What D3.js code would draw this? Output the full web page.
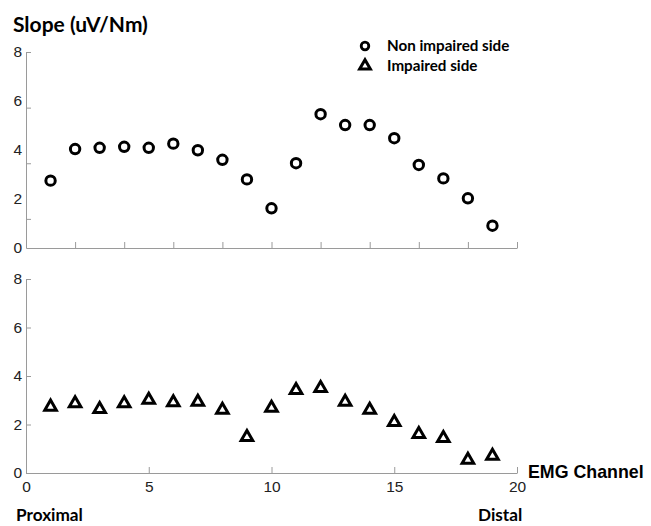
<!DOCTYPE html>
<html>
<head>
<meta charset="utf-8">
<script src="https://cdn.jsdelivr.net/npm/d3@7"></script>
<style>
  body { margin: 0; background: #fff; }
  svg { display: block; }
</style>
</head>
<body>
<svg id="chart" width="651" height="526"></svg>
<script>
// EMG channels 1..19
var channels = [1, 2, 3, 4, 5, 6, 7, 8, 9, 10, 11, 12, 13, 14, 15, 16, 17, 18, 19];
var nonImpaired = [2.75, 4.04, 4.09, 4.13, 4.09, 4.26, 3.99, 3.60, 2.80, 1.62, 3.46, 5.46, 5.02, 5.02, 4.48, 3.39, 2.84, 2.03, 0.91];
var impaired = [2.73, 2.87, 2.63, 2.87, 3.01, 2.91, 2.93, 2.60, 1.48, 2.68, 3.42, 3.50, 2.93, 2.60, 2.10, 1.60, 1.44, 0.54, 0.70];
var yTickLabels = [0, 2, 4, 6, 8];
var xTickLabels = [0, 5, 10, 15, 20];
var topXTicks = [2, 4, 6, 8, 10, 12, 14, 16, 18, 20];

function draw() {
  var svg = d3.select("#chart");
  var axisColor = "#9a9a9a";

  var x = d3.scaleLinear().domain([0, 20]).range([26, 517]);
  var yTop = d3.scaleLinear().domain([0, 8]).range([248, 52]);
  // the top panel's tick marks don't line up with its labels in the original
  var yTopTicks = d3.scaleLinear().domain([0, 8]).range([274.5, 52]);
  var yBot = d3.scaleLinear().domain([0, 8]).range([473, 279]);

  function styleAxis(g) {
    g.select(".domain").attr("stroke", axisColor);
    g.selectAll(".tick line").attr("stroke", axisColor);
    g.selectAll(".tick text")
      .attr("fill", "#222")
      .attr("font-family", "'Liberation Sans', Arial, sans-serif")
      .attr("font-size", 15.5);
  }

  // ---- top panel ----
  svg.append("g")
    .attr("transform", "translate(26,0)")
    .call(d3.axisLeft(yTop).tickValues(yTickLabels).tickSize(0).tickPadding(4).tickSizeOuter(0))
    .call(styleAxis);
  svg.append("g")
    .attr("transform", "translate(26,0)")
    .call(d3.axisLeft(yTopTicks).tickValues([2, 4, 6, 8]).tickSize(-5).tickFormat("").tickSizeOuter(0))
    .call(function(g) { g.select(".domain").remove(); })
    .call(styleAxis);
  svg.append("g")
    .attr("transform", "translate(0,248)")
    .call(d3.axisBottom(x).tickValues(topXTicks).tickSize(-6).tickFormat("").tickSizeOuter(0))
    .call(styleAxis);

  // ---- bottom panel ----
  svg.append("g")
    .attr("transform", "translate(26,0)")
    .call(d3.axisLeft(yBot).tickValues(yTickLabels).tickSize(-5).tickPadding(4).tickSizeOuter(0))
    .call(styleAxis)
    .call(function(g) { g.selectAll(".tick text").attr("x", -4); });
  svg.append("g")
    .attr("transform", "translate(0,473)")
    .call(d3.axisBottom(x).tickValues(xTickLabels).tickSize(-6).tickSizeOuter(0))
    .call(styleAxis)
    .call(function(g) { g.selectAll(".tick text").attr("y", 8); });

  // ---- markers ----
  svg.append("g").selectAll("circle")
    .data(channels)
    .enter().append("circle")
    .attr("cx", function(d) { return x(d); })
    .attr("cy", function(d, i) { return yTop(nonImpaired[i]); })
    .attr("r", 4.7)
    .attr("fill", "none")
    .attr("stroke", "#000")
    .attr("stroke-width", 3);

  var tri = d3.symbol().type(d3.symbolTriangle).size(58);
  svg.append("g").selectAll("path")
    .data(channels)
    .enter().append("path")
    .attr("d", tri)
    .attr("transform", function(d, i) { return "translate(" + x(d) + "," + yBot(impaired[i]) + ")"; })
    .attr("fill", "none")
    .attr("stroke", "#000")
    .attr("stroke-width", 3)
    .attr("stroke-linejoin", "miter");

  // ---- legend ----
  var legend = svg.append("g");
  legend.append("circle")
    .attr("cx", 365).attr("cy", 46).attr("r", 3.8)
    .attr("fill", "none").attr("stroke", "#000").attr("stroke-width", 2.8);
  legend.append("path")
    .attr("d", d3.symbol().type(d3.symbolTriangle).size(50))
    .attr("transform", "translate(365,66)")
    .attr("fill", "none").attr("stroke", "#000").attr("stroke-width", 3);
  var legendText = ["Non impaired side", "Impaired side"];
  legend.selectAll("text")
    .data(legendText)
    .enter().append("text")
    .attr("x", 387)
    .attr("y", function(d, i) { return 46 + i * 20; })
    .attr("dy", "0.35em")
    .attr("font-family", "Lato, 'Open Sans', sans-serif")
    .attr("font-weight", "bold")
    .attr("font-size", 15.2)
    .text(function(d) { return d; });

  // ---- titles ----
  svg.append("text")
    .attr("x", 13).attr("y", 25).attr("dy", "0.35em")
    .attr("font-family", "Lato, 'Open Sans', sans-serif")
    .attr("font-weight", "bold").attr("font-size", 21)
    .text("Slope (uV/Nm)");
  svg.append("text")
    .attr("x", 528).attr("y", 472).attr("dy", "0.35em")
    .attr("font-family", "'Liberation Sans', Arial, sans-serif")
    .attr("font-weight", "bold").attr("font-size", 17.8)
    .text("EMG Channel");
  svg.append("text")
    .attr("x", 16).attr("y", 515).attr("dy", "0.35em")
    .attr("font-family", "Lato, 'Open Sans', sans-serif")
    .attr("font-weight", "bold").attr("font-size", 17.2)
    .text("Proximal");
  svg.append("text")
    .attr("x", 478).attr("y", 515).attr("dy", "0.35em")
    .attr("font-family", "Lato, 'Open Sans', sans-serif")
    .attr("font-weight", "bold").attr("font-size", 17.2)
    .text("Distal");
}

draw();
</script>
</body>
</html>
